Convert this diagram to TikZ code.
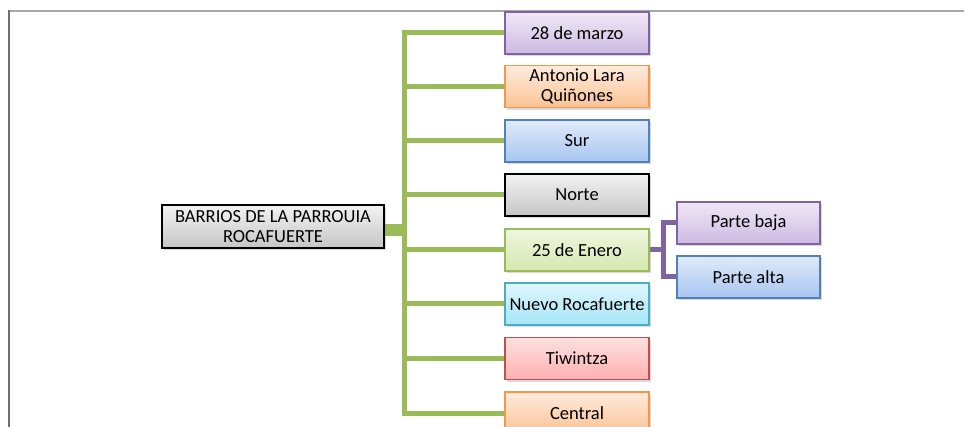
\documentclass[tikz,border=0pt]{standalone}
\usepackage{fontspec}
\setmainfont{Carlito}
\usetikzlibrary{shadows,backgrounds}
\definecolor{purT}{HTML}{F0E8F7}\definecolor{purB}{HTML}{CDB9E2}\definecolor{purD}{HTML}{8064A2}
\definecolor{oraT}{HTML}{FEEBDD}\definecolor{oraB}{HTML}{FBC394}\definecolor{oraD}{HTML}{F79646}
\definecolor{bluT}{HTML}{E0EAF8}\definecolor{bluB}{HTML}{A8C6F2}\definecolor{bluD}{HTML}{4F81BD}
\definecolor{gryT}{HTML}{F2F2F2}\definecolor{gryB}{HTML}{C6C6C6}
\definecolor{grnT}{HTML}{EFF6DF}\definecolor{grnB}{HTML}{D6E8B0}\definecolor{grnD}{HTML}{9BBB59}
\definecolor{aquT}{HTML}{E0F6FC}\definecolor{aquB}{HTML}{A4E6F8}\definecolor{aquD}{HTML}{4BACC6}
\definecolor{redT}{HTML}{FDE0E0}\definecolor{redB}{HTML}{FFB0B0}\definecolor{redD}{HTML}{C0504D}
\definecolor{frameT}{HTML}{A3A7A7}\definecolor{frameL}{HTML}{6E7070}
\tikzset{
  box/.style={rectangle, draw=#1D, line width=1.3pt, top color=#1T, bottom color=#1B,
    minimum width=144pt, minimum height=42pt, inner sep=0pt, align=center,
    font=\fontsize{18.5}{20}\selectfont,
    drop shadow={opacity=0.3, shadow xshift=2pt, shadow yshift=-2.5pt}},
  graybox/.style={rectangle, draw=black, line width=1.3pt, top color=gryT, bottom color=gryB,
    minimum width=144pt, minimum height=42pt, inner sep=0pt, align=center,
    font=\fontsize{18.5}{20}\selectfont,
    drop shadow={opacity=0.3, shadow xshift=2pt, shadow yshift=-2.5pt}},
  gline/.style={draw=grnD, line width=5pt},
  pline/.style={draw=purD, line width=5pt},
}
\begin{document}
\begin{tikzpicture}[x=1pt,y=-1pt]
\useasboundingbox (0,0) rectangle (966,427);
% frame
\draw[frameT, line width=2pt] (8,11.5) -- (964,11.5);
\draw[frameL, line width=2pt] (8.5,10.5) -- (8.5,427);
% nodes
\node[graybox, minimum width=222pt, minimum height=43pt] (root) at (273,226.5) {BARRIOS DE LA PARROUIA\\ROCAFUERTE};
\node[box=pur] (c1) at (577,33) {28 de marzo};
\node[box=ora] (c2) at (577,86.5) {Antonio Lara\\Quiñones};
\node[box=blu] (c3) at (577,141) {Sur};
\node[graybox] (c4) at (577,195) {Norte};
\node[box=grn] (c5) at (577,250) {25 de Enero};
\node[box=aqu] (c6) at (577,304) {Nuevo Rocafuerte};
\node[box=red] (c7) at (577,358.5) {Tiwintza};
\node[box=ora] (c8) at (577,413) {Central};
\node[box=pur, minimum width=143pt] (s1) at (748.5,223) {Parte baja};
\node[box=blu, minimum width=143pt] (s2) at (748.5,277) {Parte alta};
\coordinate (t) at (404.5,0);
\coordinate (p) at (663,0);
% connectors
\begin{scope}[on background layer]
\draw[gline, line width=12pt] (root.east) ++(0,4) coordinate (re) (root.east |- re) -- (re -| t);
\draw[gline, miter limit=10] (c1.west) -- (c1.west -| t) -- (c8.west -| t) -- (c8.west);
\foreach \c in {c2,c3,c4,c5,c6,c7} \draw[gline] (\c.west) -- (\c.west -| t);
\draw[pline] (s1.west) -- (s1.west -| p) -- (s2.west -| p) -- (s2.west);
\draw[pline] (c5.east) -- (c5.east -| p);
\end{scope}
\end{tikzpicture}
\end{document}
